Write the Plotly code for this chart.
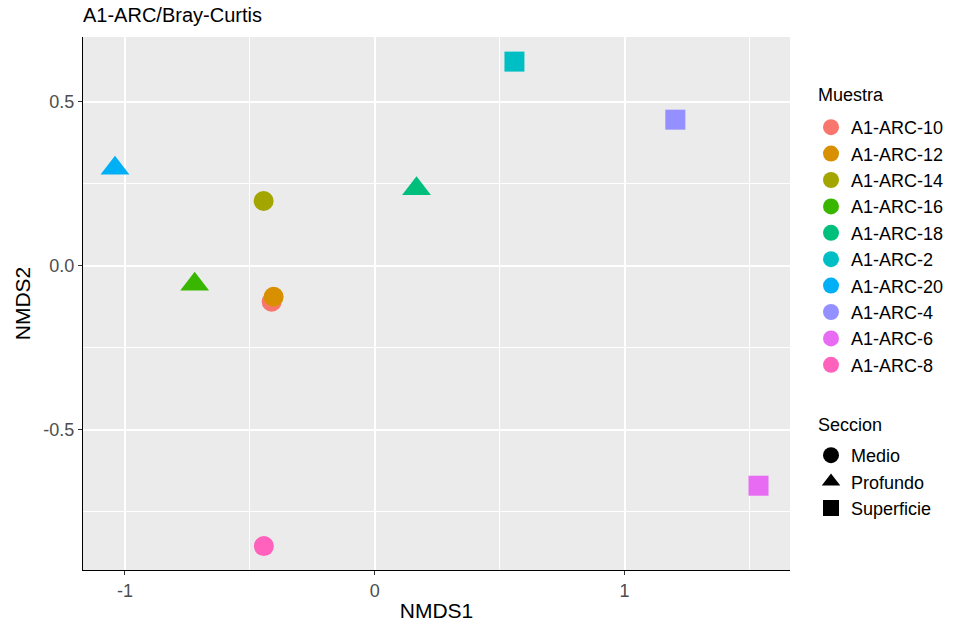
import plotly.graph_objects as go

# NMDS ordination scores (Bray-Curtis) per sample
muestras = ["A1-ARC-10", "A1-ARC-12", "A1-ARC-14", "A1-ARC-16", "A1-ARC-18",
            "A1-ARC-2", "A1-ARC-20", "A1-ARC-4", "A1-ARC-6", "A1-ARC-8"]
nmds1 = [-0.413, -0.405, -0.445, -0.721, 0.167, 0.559, -1.040, 1.203, 1.536, -0.444]
nmds2 = [-0.110, -0.095, 0.197, -0.057, 0.234, 0.622, 0.297, 0.445, -0.671, -0.855]
seccion = ["Medio", "Medio", "Medio", "Profundo", "Profundo",
           "Superficie", "Profundo", "Superficie", "Superficie", "Medio"]

colores = ["#F8766D", "#D89000", "#A3A500", "#39B600", "#00BF7D",
           "#00BFC4", "#00B0F6", "#9590FF", "#E76BF3", "#FF62BC"]
secciones = ["Medio", "Profundo", "Superficie"]
simbolos = {"Medio": "circle", "Profundo": "triangle-up", "Superficie": "square"}
tamanos = {"Medio": 20, "Profundo": 25, "Superficie": 20}

x_ticks = [-1, 0, 1]
y_ticks = [-0.5, 0.0, 0.5]

FONT = "Liberation Sans, Arial, sans-serif"
W, H = 953, 628
ML, MR, MT, MB = 83, 0, 37, 58
PANEL_RIGHT = 790                      # right edge of the panel, px
PW = W - ML - MR                       # paper width
PH = H - MT - MB                       # paper height


def paper_x(px):
    return (px - ML) / PW


def paper_y(px):
    return (H - MB - px) / PH


fig = go.Figure()

# sample points
for m, x, y, s, c in zip(muestras, nmds1, nmds2, seccion, colores):
    fig.add_trace(go.Scatter(
        x=[x], y=[y], mode="markers", name=m, showlegend=False,
        marker=dict(symbol=simbolos[s], size=tamanos[s], color=c, line=dict(width=0)),
    ))

# colour legend (Muestra)
for i, (m, c) in enumerate(zip(muestras, colores)):
    fig.add_trace(go.Scatter(
        x=[None], y=[None], mode="markers", name=m, legend="legend",
        legendgroup="m%d" % i,
        marker=dict(symbol="circle", size=20, color=c),
    ))

# shape legend (Seccion)
for i, s in enumerate(secciones):
    fig.add_trace(go.Scatter(
        x=[None], y=[None], mode="markers", name=s, legend="legend2",
        legendgroup="s%d" % i,
        marker=dict(symbol=simbolos[s], size=20, color="black"),
    ))

axis_common = dict(
    showgrid=True, gridcolor="white", gridwidth=1.6,
    zeroline=False, showline=True, linecolor="black", linewidth=1.2,
    ticks="outside", ticklen=4, tickcolor="#333333", tickwidth=1,
    tickfont=dict(family=FONT, size=18, color="#4D4D4D"),
)

legend_common = dict(
    font=dict(family=FONT, size=18, color="black"),
    x=paper_x(811), xanchor="left", yanchor="top",
    traceorder="grouped", tracegroupgap=0, bgcolor="rgba(0,0,0,0)",
)

fig.update_layout(
    width=W, height=H,
    margin=dict(l=ML, r=MR, t=MT, b=MB),
    paper_bgcolor="white", plot_bgcolor="#EBEBEB",
    font=dict(family=FONT, color="black"),
    title=dict(text="A1-ARC/Bray-Curtis", x=ML / W, xanchor="left",
               y=1 - 14.5 / H, yanchor="middle",
               font=dict(family=FONT, size=20, color="black")),
    xaxis=dict(axis_common, domain=[0, paper_x(PANEL_RIGHT)],
               range=[-1.168, 1.662], tickvals=x_ticks,
               ticktext=[str(v) for v in x_ticks],
               minor=dict(showgrid=True, gridcolor="white", gridwidth=0.7,
                          tickvals=[-0.5, 0.5, 1.5], ticks=""),
               title=dict(text="NMDS1", font=dict(family=FONT, size=21, color="black"),
                          standoff=3)),
    yaxis=dict(axis_common, range=[-0.928, 0.697], tickvals=y_ticks,
               ticktext=["%.1f" % v for v in y_ticks],
               minor=dict(showgrid=True, gridcolor="white", gridwidth=0.7,
                          tickvals=[-0.75, -0.25, 0.25], ticks=""),
               title=dict(text="NMDS2", font=dict(family=FONT, size=21, color="black"),
                          standoff=6)),
    legend=dict(legend_common, y=paper_y(109)),
    legend2=dict(legend_common, y=paper_y(437)),
    annotations=[
        dict(text="Muestra", xref="paper", yref="paper", x=paper_x(816),
             y=paper_y(95), xanchor="left", yanchor="middle", showarrow=False,
             font=dict(family=FONT, size=18, color="black")),
        dict(text="Seccion", xref="paper", yref="paper", x=paper_x(816),
             y=paper_y(425), xanchor="left", yanchor="middle", showarrow=False,
             font=dict(family=FONT, size=18, color="black")),
    ],
)

fig.write_html("out.html")
